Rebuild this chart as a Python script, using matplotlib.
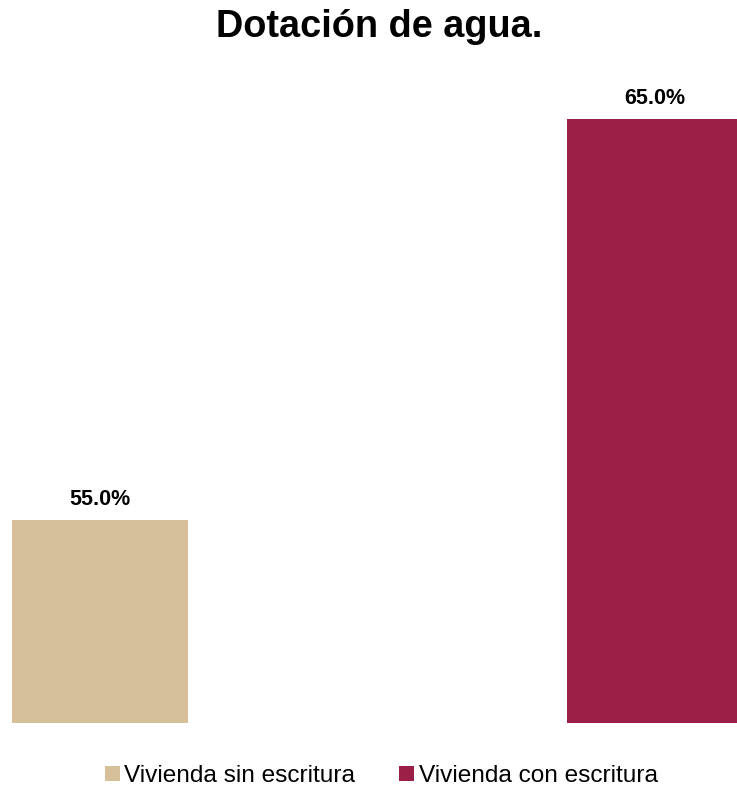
import matplotlib.pyplot as plt
from matplotlib.patches import Patch

plt.rcParams['font.family'] = ['Liberation Sans', 'DejaVu Sans']

# data
categories = ['Vivienda sin escritura', 'Vivienda con escritura']
values = [55.0, 65.0]
colors = ['#D5C09A', '#9B1F46']

fig = plt.figure(figsize=(7.37, 7.9), dpi=100)
ax = fig.add_axes([0, 0.0848, 1, 0.924 - 0.0848])

x = [0, 1]
ax.bar(x, values, width=0.317, color=colors)
ax.set_xlim(-0.18, 1.148)
ax.set_ylim(49.94, 66.47)

for xi, v in zip(x, values):
    ax.text(xi, v + 0.37, '{:.1f}%'.format(v), ha='center', va='baseline',
            fontsize=15.5, fontweight='bold')

for s in ax.spines.values():
    s.set_visible(False)
ax.set_xticks([])
ax.set_yticks([])

fig.text(379 / 737, 1 - 37 / 790, 'Dotación de agua.', ha='center', va='baseline',
         fontsize=27.3, fontweight='bold')

handles = [Patch(facecolor=c, edgecolor='none') for c in colors]
fig.legend(handles, categories, loc='center', bbox_to_anchor=(381.5 / 737, 1 - 776 / 790),
           ncol=2, frameon=False, fontsize=17.6, handlelength=0.6, handleheight=0.6,
           handletextpad=0.2, columnspacing=1.8)

fig.savefig('out.png', dpi=100)
